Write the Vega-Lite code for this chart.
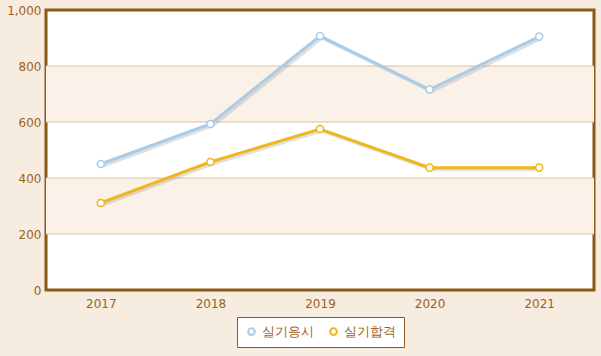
{
  "$schema": "https://vega.github.io/schema/vega-lite/v6.json",
  "width": 548,
  "height": 280,
  "autosize": {"type": "none"},
  "padding": {"left": 46, "top": 10, "right": 7, "bottom": 66},
  "background": "#F6ECDF",
  "config": {
    "view": {"stroke": "#8C5A14", "strokeWidth": 3, "fill": "white"},
    "font": "DejaVu Sans",
    "axis": {"labelColor": "#A0601A", "labelFontSize": 12, "domain": false, "ticks": false, "grid": false, "title": null, "labelFont": "DejaVu Sans"},
    "legend": {"layout": {"bottom": {"anchor": "middle"}}}
  },
  "datasets": {
    "main": [
      {"year": "2017", "series": "실기응시", "value": 450},
      {"year": "2018", "series": "실기응시", "value": 593},
      {"year": "2019", "series": "실기응시", "value": 907},
      {"year": "2020", "series": "실기응시", "value": 716},
      {"year": "2021", "series": "실기응시", "value": 905},
      {"year": "2017", "series": "실기합격", "value": 311},
      {"year": "2018", "series": "실기합격", "value": 457},
      {"year": "2019", "series": "실기합격", "value": 575},
      {"year": "2020", "series": "실기합격", "value": 437},
      {"year": "2021", "series": "실기합격", "value": 437}
    ],
    "bands": [
      {"lo": 200, "hi": 400},
      {"lo": 600, "hi": 800}
    ],
    "grid": [
      {"v": 200}, {"v": 400}, {"v": 600}, {"v": 800}
    ]
  },
  "layer": [
    {
      "data": {"name": "bands"},
      "mark": {"type": "rect", "fill": "#FAF1E8"},
      "encoding": {
        "y": {"field": "lo", "type": "quantitative", "scale": {"domain": [0, 1000]}, "axis": {"format": ",d", "values": [0, 200, 400, 600, 800, 1000], "labelPadding": 5}},
        "y2": {"field": "hi"}
      }
    },
    {
      "data": {"name": "grid"},
      "mark": {"type": "rule", "stroke": "#DCC39C", "strokeWidth": 1},
      "encoding": {
        "y": {"field": "v", "type": "quantitative"}
      }
    },
    {
      "data": {"name": "main"},
      "mark": {"type": "line", "stroke": "#666666", "strokeWidth": 3, "opacity": 0.2, "xOffset": 2, "yOffset": 2},
      "encoding": {
        "x": {"field": "year", "type": "ordinal", "scale": {"type": "point", "padding": 0.5}, "axis": {"labelAngle": 0, "labelPadding": 8}},
        "y": {"field": "value", "type": "quantitative"},
        "detail": {"field": "series"}
      }
    },
    {
      "data": {"name": "main"},
      "mark": {"type": "line", "strokeWidth": 3},
      "encoding": {
        "x": {"field": "year", "type": "ordinal"},
        "y": {"field": "value", "type": "quantitative"},
        "stroke": {
          "field": "series", "type": "nominal",
          "scale": {"domain": ["실기응시", "실기합격"], "range": ["#A9CCE8", "#F0B61C"]},
          "legend": {
            "title": null, "orient": "bottom", "direction": "horizontal",
            "fillColor": "white", "strokeColor": "#8C5A14", "padding": 8,
            "symbolType": "circle", "symbolSize": 45, "symbolStrokeWidth": 2, "symbolFillColor": "white",
            "labelFontSize": 13, "labelColor": "#A0601A", "columnPadding": 12, "offset": 8
          }
        }
      }
    },
    {
      "data": {"name": "main"},
      "mark": {"type": "point", "filled": false, "fill": "white", "fillOpacity": 1, "size": 50, "strokeWidth": 1.5, "opacity": 1},
      "encoding": {
        "x": {"field": "year", "type": "ordinal"},
        "y": {"field": "value", "type": "quantitative"},
        "stroke": {"field": "series", "type": "nominal"}
      }
    }
  ]
}
